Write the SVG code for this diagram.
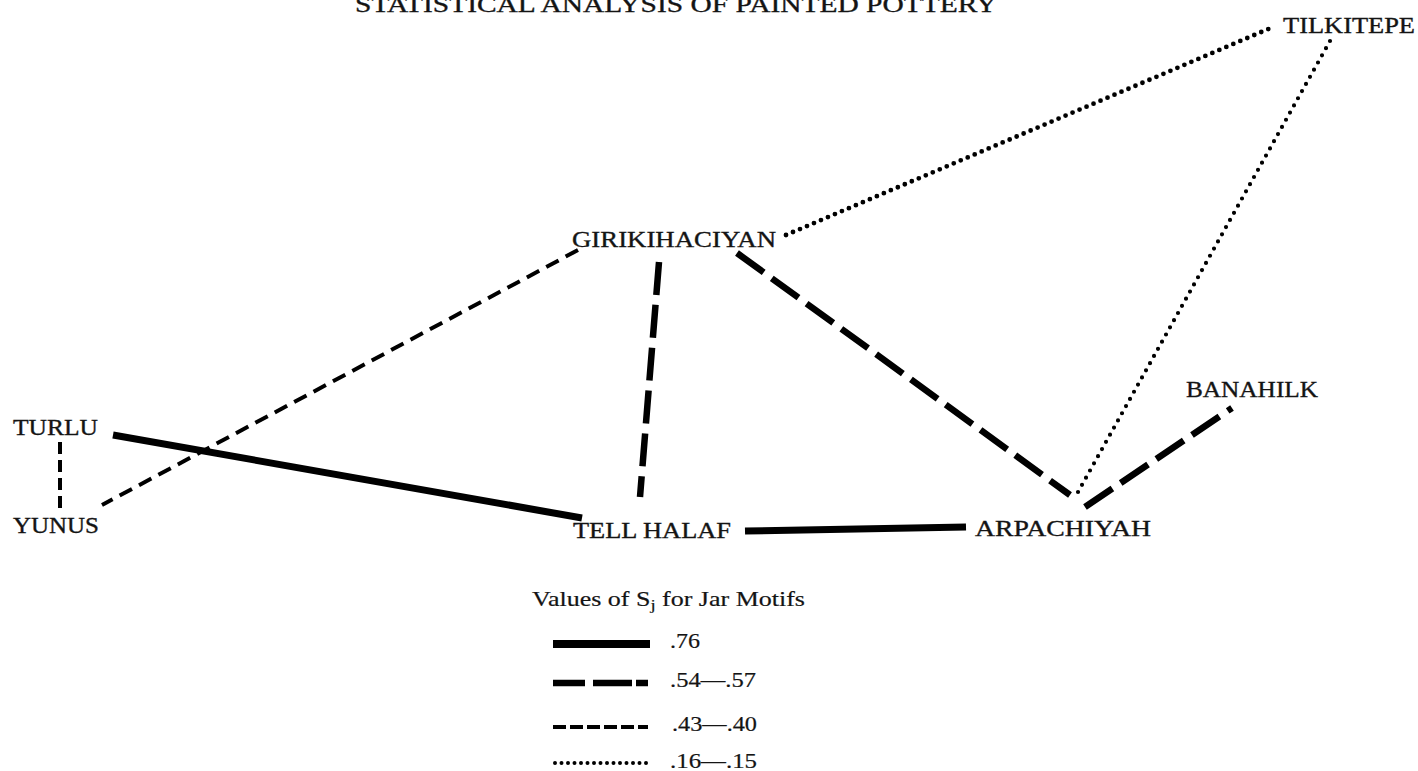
<svg xmlns="http://www.w3.org/2000/svg" width="1418" height="771" viewBox="0 0 1418 771">
<style>
  text { font-family: "Liberation Serif", "Times New Roman", serif; fill: #141414; stroke: #141414; stroke-width: 0.35; }
  .lbl { font-size: 23px; }
  .leg { font-size: 21px; stroke-width: 0.2; }
  .solid { stroke: #000; stroke-width: 7; fill: none; stroke-linecap: butt; }
  .thick { stroke: #000; stroke-width: 6.5; fill: none; stroke-dasharray: 33 10; }
  .med { stroke: #000; stroke-width: 4; fill: none; stroke-dasharray: 14 8; }
  .dot { stroke: #000; stroke-width: 4.8; fill: none; stroke-linecap: round; stroke-dasharray: 0 7.6; }
  .dot2 { stroke: #000; stroke-width: 4.2; fill: none; stroke-linecap: round; stroke-dasharray: 0 8.2; }
</style>
<rect width="1418" height="771" fill="#fff"/>
<text x="355" y="12" font-size="24" textLength="642" lengthAdjust="spacingAndGlyphs">STATISTICAL ANALYSIS OF PAINTED POTTERY</text>
<g id="connectors">
  <line class="dot" x1="786" y1="235" x2="1273" y2="27"/>
  <line class="dot2" x1="1330" y1="41" x2="1078" y2="492"/>
  <line class="med" x1="578" y1="250" x2="102" y2="505"/>
  <line class="thick" x1="659" y1="262" x2="640" y2="497"/>
  <line class="thick" x1="737" y1="253" x2="1070" y2="495"/>
  <line class="solid" x1="113" y1="435" x2="582" y2="518"/>
  <line class="solid" x1="745" y1="531" x2="966" y2="527"/>
  <line class="thick" x1="1085" y1="507" x2="1232" y2="408"/>
  <line class="med" x1="60" y1="442" x2="60" y2="510" style="stroke-dasharray:12 6"/>
</g>
<g id="node-tilkitepe"><text class="lbl" x="1283" y="33" textLength="132" lengthAdjust="spacingAndGlyphs">TILKITEPE</text></g>
<g id="node-girikihaciyan"><text class="lbl" x="572" y="247" textLength="204" lengthAdjust="spacingAndGlyphs">GIRIKIHACIYAN</text></g>
<g id="node-turlu"><text class="lbl" x="13" y="435" textLength="85" lengthAdjust="spacingAndGlyphs">TURLU</text></g>
<g id="node-yunus"><text class="lbl" x="13" y="533" textLength="86" lengthAdjust="spacingAndGlyphs">YUNUS</text></g>
<g id="node-tellhalaf"><text class="lbl" x="573" y="538" textLength="158" lengthAdjust="spacingAndGlyphs">TELL HALAF</text></g>
<g id="node-arpachiyah"><text class="lbl" x="975" y="536" textLength="176" lengthAdjust="spacingAndGlyphs">ARPACHIYAH</text></g>
<g id="node-banahilk"><text class="lbl" x="1186" y="397" textLength="132" lengthAdjust="spacingAndGlyphs">BANAHILK</text></g>
<g id="legend">
  <text class="leg" x="532" y="606" textLength="273" lengthAdjust="spacingAndGlyphs">Values of S<tspan font-size="15" dy="4">j</tspan><tspan dy="-4"> for Jar Motifs</tspan></text>
  <line class="solid" x1="553" y1="644" x2="650" y2="644" style="stroke-width:8"/>
  <line x1="553" y1="683" x2="648" y2="683" stroke="#000" stroke-width="6.5" stroke-dasharray="32 8 39 4 12"/>
  <line x1="553" y1="727" x2="648" y2="727" stroke="#000" stroke-width="4" stroke-dasharray="13 4"/>
  <line class="dot2" x1="555" y1="763" x2="647" y2="763" style="stroke-dasharray:0 6.5;stroke-width:4"/>
  <text class="leg" x="670" y="648" textLength="30" lengthAdjust="spacingAndGlyphs">.76</text>
  <text class="leg" x="670" y="687" textLength="86" lengthAdjust="spacingAndGlyphs">.54—.57</text>
  <text class="leg" x="672" y="731" textLength="85" lengthAdjust="spacingAndGlyphs">.43—.40</text>
  <text class="leg" x="670" y="768" textLength="87" lengthAdjust="spacingAndGlyphs">.16—.15</text>
</g>
</svg>
